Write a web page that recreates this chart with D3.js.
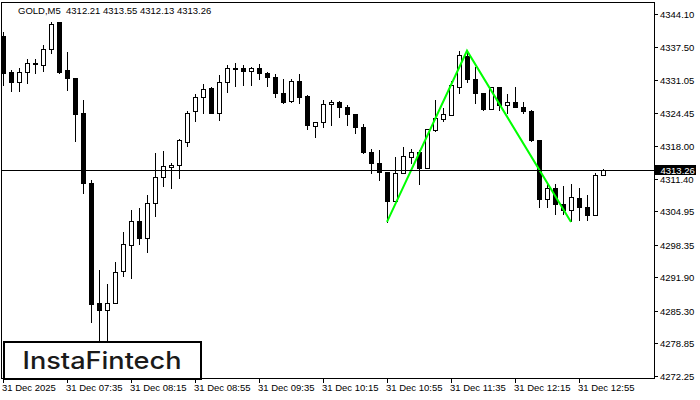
<!DOCTYPE html>
<html>
<head>
<meta charset="utf-8">
<script src="https://cdn.jsdelivr.net/npm/d3@7"></script>
<style>
html,body{margin:0;padding:0;background:#fff;}
svg{display:block;}
text{font-family:"Liberation Sans",Arial,sans-serif;}
</style>
</head>
<body>
<svg id="chart" width="700" height="400"></svg>
<script>
// ---------- data ----------
const times = ["06:55","07:00","07:05","07:10","07:15","07:20","07:25","07:30","07:35","07:40","07:45","07:50","07:55",
"08:00","08:05","08:10","08:15","08:20","08:25","08:30","08:35","08:40","08:45","08:50","08:55",
"09:00","09:05","09:10","09:15","09:20","09:25","09:30","09:35","09:40","09:45","09:50","09:55",
"10:00","10:05","10:10","10:15","10:20","10:25","10:30","10:35","10:40","10:45","10:50","10:55",
"11:00","11:05","11:10","11:15","11:20","11:25","11:30","11:35","11:40","11:45","11:50","11:55",
"12:00","12:05","12:10","12:15","12:20","12:25","12:30","12:35","12:40","12:45","12:50","12:55",
"13:00","13:05","13:10"];

const open = [4339.73,4332.59,4330.60,4332.53,4334.22,4333.98,4337.09,4342.51,4332.99,4331.34,
4324.39,4310.50,4286.80,4285.49,4286.88,4293.15,4298.39,4303.15,4299.78,4306.65,
4311.75,4313.67,4314.07,4318.64,4324.79,4327.57,4329.35,4324.51,4330.54,4333.26,
4333.32,4332.73,4333.32,4332.33,4331.66,4328.36,4326.89,4330.74,4327.82,4321.81,
4322.66,4326.24,4326.63,4325.70,4324.25,4321.73,4316.77,4314.47,4312.80,4307.04,
4312.48,4315.78,4316.65,4313.59,4321.08,4323.32,4323.99,4329.67,4335.76,4331.20,
4328.48,4325.24,4329.55,4326.04,4326.57,4325.70,4324.85,4319.09,4307.52,4309.70,
4306.39,4305.20,4307.62,4305.85,4304.34,4312.21];

const high = [4340.79,4333.12,4333.64,4335.43,4335.31,4338.15,4342.77,4342.57,4336.76,4331.34,
4327.29,4311.29,4293.49,4290.85,4295.14,4301.03,4305.40,4305.79,4308.37,4316.71,
4317.11,4314.72,4319.49,4325.05,4328.48,4330.46,4329.81,4332.19,4334.18,4334.51,
4334.18,4333.78,4334.31,4332.85,4332.33,4331.34,4331.34,4332.33,4328.22,4322.92,
4327.17,4327.17,4327.03,4326.24,4324.25,4322.41,4317.44,4317.25,4312.80,4315.92,
4317.90,4317.56,4317.25,4321.41,4327.17,4325.70,4331.00,4336.95,4336.62,4333.78,
4328.48,4329.67,4329.67,4328.36,4329.81,4326.77,4325.18,4319.09,4310.81,4310.62,
4310.16,4310.50,4309.82,4308.51,4312.80,4313.55];

const low = [4330.11,4328.88,4328.88,4330.35,4332.45,4332.85,4336.30,4332.33,4329.02,4318.95,
4308.63,4283.03,4276.42,4277.01,4286.84,4292.10,4291.76,4298.45,4296.92,4304.07,
4310.02,4309.62,4311.61,4317.96,4322.92,4324.51,4324.51,4323.06,4328.68,4329.87,
4330.07,4330.07,4331.14,4329.87,4327.69,4326.38,4326.69,4326.38,4321.22,4319.75,
4321.73,4322.07,4323.72,4322.07,4320.54,4316.57,4312.48,4311.15,4302.88,4307.04,
4312.48,4314.59,4310.36,4313.59,4320.94,4322.92,4323.99,4328.48,4330.66,4326.49,
4325.05,4325.24,4325.05,4324.39,4325.70,4324.51,4318.95,4305.85,4305.85,4304.40,
4304.40,4303.01,4303.35,4303.21,4304.34,4312.13];

const close = [4332.49,4330.60,4332.59,4334.31,4334.31,4337.09,4342.12,4332.65,4331.34,4324.25,
4310.50,4286.68,4285.49,4286.88,4292.95,4298.59,4303.15,4299.78,4306.53,4311.69,
4313.87,4314.07,4319.09,4324.39,4327.57,4329.15,4324.51,4330.54,4333.32,4333.32,
4332.73,4333.32,4332.33,4331.66,4328.36,4326.69,4330.74,4327.69,4322.01,4322.66,
4326.24,4326.63,4325.70,4324.25,4321.73,4316.77,4314.47,4312.80,4307.04,4312.48,
4315.92,4316.65,4313.59,4321.22,4323.40,4324.25,4330.01,4335.96,4331.20,4328.48,
4325.24,4329.55,4326.04,4326.57,4325.70,4324.85,4319.09,4307.52,4309.70,4306.39,
4305.20,4307.72,4305.85,4304.34,4312.14,4313.26];

const yTicks = [4344.10,4337.50,4331.05,4324.45,4318.00,4311.40,4304.95,4298.35,4291.90,4285.30,4278.85,4272.25];
const xTickTimes = ["06:55","07:35","08:15","08:55","09:35","10:15","10:55","11:35","12:15","12:55"];
const xTickLabels = ["31 Dec 2025","31 Dec 07:35","31 Dec 08:15","31 Dec 08:55","31 Dec 09:35","31 Dec 10:15","31 Dec 10:55","31 Dec 11:35","31 Dec 12:15","31 Dec 12:55"];

const patternTimes = ["10:55","11:45","12:50"];
const patternPrices = [4302.88,4336.82,4302.88];

const bidPrice = 4313.26;
const headerText = "GOLD,M5  4312.21 4313.55 4312.13 4313.26";
const logoText = "InstaFintech";

// ---------- layout ----------
const frame = {x0:1.5, y0:2.5, x1:654.5, y1:378.5};
const svg = d3.select("#chart");

const x = d3.scalePoint().domain(times).range([3, 603]);
const y = d3.scaleLinear().domain([4272.25, 4344.10]).range([376.4, 14]);
const py = v => Math.round(y(v)) + 0.5;

const candles = times.map((t,i)=>({t, o:open[i], h:high[i], l:low[i], c:close[i]}));

// frame
svg.append("rect")
  .attr("x", frame.x0).attr("y", frame.y0)
  .attr("width", frame.x1-frame.x0).attr("height", frame.y1-frame.y0)
  .attr("fill","#fff").attr("stroke","#000").attr("stroke-width",1);

svg.append("clipPath").attr("id","plotclip").append("rect")
  .attr("x", frame.x0+0.5).attr("y", frame.y0+0.5)
  .attr("width", frame.x1-frame.x0-1).attr("height", frame.y1-frame.y0-1);

const plot = svg.append("g").attr("clip-path","url(#plotclip)");

// candles
const cg = plot.selectAll("g.candle").data(candles).enter().append("g").attr("class","candle");
cg.append("line")
  .attr("x1", d=>x(d.t)+0.5).attr("x2", d=>x(d.t)+0.5)
  .attr("y1", d=>py(d.h)).attr("y2", d=>py(d.l))
  .attr("stroke","#000").attr("stroke-width",1).attr("shape-rendering","crispEdges");
cg.append("rect")
  .attr("x", d=>x(d.t)-1.5)
  .attr("width", 4)
  .attr("y", d=>Math.min(py(d.o), py(d.c)))
  .attr("height", d=>Math.max(0.01, Math.abs(py(d.o)-py(d.c))))
  .attr("fill", d=> d.c>=d.o ? "#fff" : "#000")
  .attr("stroke","#000").attr("stroke-width",1).attr("shape-rendering","crispEdges");

// pattern line
const pline = d3.line().x(d=>x(d[0])).y(d=>y(d[1]));
plot.append("path")
  .attr("d", pline(patternTimes.map((t,i)=>[t, patternPrices[i]])))
  .attr("fill","none").attr("stroke","#00ff00").attr("stroke-width",2);

// bid line
plot.append("line")
  .attr("x1", frame.x0).attr("x2", frame.x1)
  .attr("y1", py(bidPrice)).attr("y2", py(bidPrice))
  .attr("stroke","#000").attr("stroke-width",1).attr("shape-rendering","crispEdges");

// y axis
const yAxis = d3.axisRight(y).tickValues(yTicks).tickSize(3).tickPadding(2)
  .tickFormat(d3.format(".2f"));
const yg = svg.append("g").attr("transform", `translate(${frame.x1},0)`).call(yAxis);
yg.select(".domain").remove();
yg.selectAll(".tick").attr("transform", d => `translate(0,${py(d)})`);
yg.selectAll(".tick line").attr("stroke","#000").attr("shape-rendering","crispEdges").attr("x1",0.5).attr("x2",3.5);
yg.selectAll(".tick text").attr("x",5.5).attr("fill","#000")
  .style("font-family",'"Liberation Sans",Arial,sans-serif').style("font-size","9.5px");

// bid label
const bidY = py(bidPrice);
svg.append("rect").attr("x",655).attr("y",bidY-5.5).attr("width",41).attr("height",10).attr("fill","#000");
svg.append("text").attr("x",660.5).attr("y",bidY).attr("dy","0.34em")
  .attr("fill","#fff").style("font-size","9.5px").text(d3.format(".2f")(bidPrice));

// x axis
const xAxis = d3.axisBottom(x).tickValues(xTickTimes).tickSize(4).tickPadding(3)
  .tickFormat((d,i)=>xTickLabels[i]);
const xg = svg.append("g").attr("transform", `translate(0,${frame.y1})`).call(xAxis);
xg.select(".domain").remove();
xg.selectAll(".tick").attr("transform", d => `translate(${x(d)+0.5},0)`);
xg.selectAll(".tick line").attr("stroke","#000").attr("shape-rendering","crispEdges");
xg.selectAll(".tick text").attr("text-anchor","start").attr("x",-1.5).attr("y",6).attr("dy","0.71em")
  .attr("fill","#000").style("font-family",'"Liberation Sans",Arial,sans-serif').style("font-size","9.5px");

// header
svg.append("text").attr("x",18).attr("y",14).attr("fill","#000").style("font-size","9.5px")
  .attr("xml:space","preserve").style("white-space","pre").text(headerText);

// logo
svg.append("rect").attr("x",4).attr("y",342).attr("width",197).attr("height",37)
  .attr("fill","#fff").attr("stroke","#000").attr("stroke-width",2);
svg.append("text").attr("x",22.5).attr("y",368.5).attr("fill","#1a1a1a")
  .style("font-family","Inter, 'Noto Sans', sans-serif").style("font-size","24px").style("font-weight","500")
  .attr("textLength",159).attr("lengthAdjust","spacingAndGlyphs").text(logoText);
</script>
</body>
</html>
